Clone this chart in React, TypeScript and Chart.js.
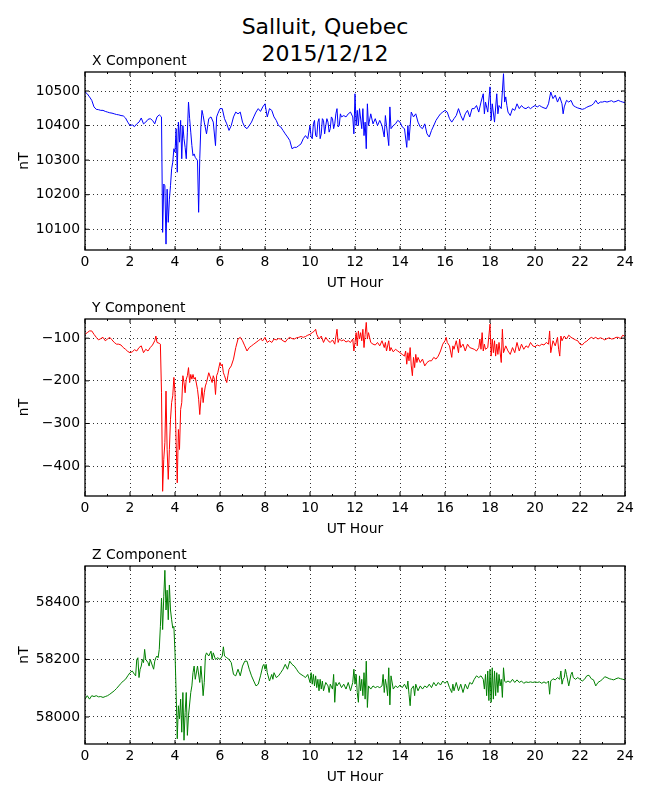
import { useEffect, useRef } from 'react';
import { Chart, registerables } from 'chart.js';

Chart.register(...registerables);

const FONT_FAMILY = 'DejaVu Sans';

// hours of the day (UT) and the nT readings
const hourTicks = [0, 2, 4, 6, 8, 10, 12, 14, 16, 18, 20, 22, 24];
const minorHourTicks = [1, 3, 5, 7, 9, 11, 13, 15, 17, 19, 21, 23];
const xTicks = [10100, 10200, 10300, 10400, 10500];
const yTicks = [-400, -300, -200, -100];
const zTicks = [58000, 58200, 58400];

const xComponent: [number, number][] = [
  [0, 10497], [0.1, 10492], [0.2, 10483], [0.3, 10473], [0.4, 10454], [0.5, 10447], [0.6, 10446], [0.7, 10444], [0.8, 10444], [0.9, 10441],
  [1, 10439], [1.1, 10437], [1.2, 10436], [1.3, 10434], [1.4, 10432], [1.5, 10431], [1.6, 10429], [1.7, 10428], [1.8, 10422], [1.9, 10410],
  [2, 10400], [2.1, 10402], [2.2, 10397], [2.3, 10405], [2.4, 10410], [2.5, 10422], [2.6, 10405], [2.7, 10410], [2.8, 10418], [2.9, 10420],
  [3, 10415], [3.1, 10405], [3.2, 10425], [3.3, 10431], [3.4, 10425], [3.45, 10091], [3.5, 10231], [3.55, 10226], [3.6, 10057], [3.65, 10216],
  [3.7, 10120], [3.75, 10187], [3.8, 10226], [3.85, 10275], [3.9, 10294], [3.95, 10333],
  [4, 10323], [4.05, 10391], [4.1, 10265], [4.15, 10410], [4.2, 10352], [4.25, 10415], [4.3, 10304], [4.35, 10400], [4.4, 10362], [4.45, 10337],
  [4.5, 10304], [4.55, 10381], [4.6, 10468], [4.65, 10420], [4.7, 10381], [4.75, 10342], [4.8, 10313], [4.85, 10318], [4.9, 10308],
  [5, 10299], [5.05, 10149], [5.1, 10304], [5.15, 10400], [5.2, 10444], [5.25, 10429], [5.3, 10410], [5.4, 10376], [5.5, 10420], [5.6, 10425],
  [5.7, 10410], [5.8, 10342], [5.85, 10425], [5.9, 10434],
  [6, 10449], [6.1, 10449], [6.2, 10420], [6.3, 10405], [6.4, 10386], [6.5, 10400], [6.6, 10425], [6.7, 10439], [6.8, 10434], [6.9, 10439],
  [7, 10410], [7.1, 10396], [7.2, 10391], [7.3, 10400], [7.4, 10410], [7.5, 10425], [7.6, 10439], [7.7, 10449], [7.8, 10441], [7.9, 10454],
  [8, 10463], [8.1, 10425], [8.2, 10449], [8.3, 10444], [8.4, 10425], [8.5, 10415], [8.6, 10400], [8.7, 10396], [8.8, 10386], [8.9, 10376],
  [9, 10367], [9.1, 10357], [9.2, 10333], [9.3, 10337], [9.4, 10337], [9.5, 10342], [9.6, 10347], [9.7, 10362], [9.8, 10371], [9.9, 10362],
  [10, 10400], [10.05, 10367], [10.1, 10362], [10.15, 10405], [10.2, 10415], [10.25, 10371], [10.3, 10367], [10.35, 10410], [10.4, 10420],
  [10.45, 10362], [10.5, 10376], [10.55, 10420], [10.6, 10415], [10.65, 10376], [10.7, 10400], [10.75, 10420], [10.8, 10410], [10.85, 10381],
  [10.9, 10391], [10.95, 10425],
  [11, 10420], [11.05, 10391], [11.1, 10405], [11.15, 10434], [11.2, 10449], [11.25, 10396], [11.3, 10400], [11.35, 10434], [11.4, 10425],
  [11.5, 10429], [11.6, 10425], [11.7, 10434], [11.8, 10439], [11.9, 10425], [11.95, 10376],
  [12, 10492], [12.05, 10400], [12.1, 10444], [12.15, 10400], [12.2, 10449], [12.3, 10391], [12.35, 10449], [12.4, 10371], [12.45, 10410],
  [12.5, 10333], [12.55, 10463], [12.6, 10400], [12.7, 10434], [12.8, 10405], [12.9, 10420],
  [13, 10400], [13.1, 10415], [13.2, 10400], [13.3, 10367], [13.35, 10429], [13.4, 10400], [13.5, 10342], [13.55, 10454], [13.6, 10391],
  [13.7, 10400], [13.8, 10405], [13.9, 10415],
  [14, 10410], [14.1, 10396], [14.2, 10391], [14.3, 10337], [14.35, 10400], [14.4, 10357], [14.5, 10439], [14.6, 10425], [14.7, 10434],
  [14.8, 10410], [14.9, 10396],
  [15, 10391], [15.1, 10405], [15.2, 10376], [15.3, 10367], [15.4, 10386], [15.5, 10400], [15.6, 10415], [15.7, 10425], [15.8, 10434], [15.9, 10439],
  [16, 10444], [16.1, 10439], [16.2, 10420], [16.3, 10410], [16.4, 10420], [16.5, 10429], [16.6, 10449], [16.7, 10429], [16.8, 10415], [16.9, 10434],
  [17, 10444], [17.1, 10425], [17.2, 10449], [17.3, 10449], [17.4, 10458], [17.5, 10439], [17.6, 10468], [17.7, 10492], [17.75, 10434],
  [17.8, 10468], [17.9, 10439],
  [18, 10512], [18.05, 10415], [18.1, 10463], [18.2, 10410], [18.3, 10492], [18.35, 10434], [18.4, 10458], [18.5, 10449], [18.6, 10550],
  [18.65, 10468], [18.7, 10483], [18.75, 10458], [18.8, 10439], [18.9, 10429],
  [19, 10449], [19.1, 10444], [19.2, 10463], [19.3, 10449], [19.4, 10458], [19.5, 10451], [19.6, 10449], [19.7, 10454], [19.8, 10449], [19.9, 10454],
  [20, 10458], [20.1, 10454], [20.2, 10458], [20.3, 10454], [20.4, 10451], [20.5, 10449], [20.6, 10463], [20.7, 10497], [20.8, 10478], [20.9, 10488],
  [21, 10468], [21.1, 10483], [21.2, 10463], [21.25, 10434], [21.3, 10454], [21.4, 10473], [21.5, 10468], [21.6, 10473], [21.7, 10458],
  [21.8, 10454], [21.9, 10451],
  [22, 10449], [22.1, 10447], [22.2, 10449], [22.3, 10453], [22.4, 10456], [22.5, 10458], [22.6, 10463], [22.7, 10473], [22.8, 10463], [22.9, 10468],
  [23, 10468], [23.1, 10470], [23.2, 10468], [23.3, 10470], [23.4, 10472], [23.5, 10468], [23.6, 10470], [23.7, 10473], [23.8, 10470], [23.9, 10468],
  [24, 10466],
];

const yComponent: [number, number][] = [
  [0, -91], [0.1, -87], [0.2, -83], [0.3, -83], [0.4, -91], [0.5, -98], [0.6, -104], [0.7, -101], [0.8, -98], [0.9, -106],
  [1, -102], [1.1, -98], [1.2, -104], [1.3, -110], [1.4, -114], [1.5, -114], [1.6, -116], [1.7, -122], [1.8, -126], [1.9, -131],
  [2, -134], [2.1, -132], [2.2, -127], [2.3, -130], [2.4, -122], [2.5, -118], [2.6, -134], [2.7, -126], [2.8, -130], [2.9, -122],
  [3, -116], [3.1, -106], [3.15, -95], [3.2, -110], [3.3, -112], [3.35, -114], [3.4, -228], [3.45, -459], [3.5, -384], [3.55, -345],
  [3.6, -224], [3.65, -361], [3.7, -431], [3.75, -361], [3.8, -290], [3.85, -251], [3.9, -235], [3.95, -192],
  [4, -228], [4.05, -345], [4.1, -439], [4.15, -314], [4.2, -361], [4.25, -267], [4.3, -251], [4.35, -188], [4.4, -204], [4.45, -228],
  [4.5, -196], [4.55, -188], [4.6, -169], [4.65, -204], [4.7, -185], [4.75, -196], [4.8, -185], [4.85, -196], [4.9, -192],
  [5, -220], [5.05, -243], [5.1, -279], [5.15, -243], [5.2, -216], [5.25, -251], [5.3, -228], [5.35, -212], [5.4, -204], [5.5, -181],
  [5.6, -196], [5.65, -204], [5.7, -188], [5.75, -196], [5.8, -232], [5.85, -188], [5.9, -181],
  [6, -157], [6.05, -165], [6.1, -161], [6.15, -181], [6.2, -188], [6.3, -204], [6.35, -188], [6.4, -173], [6.5, -165], [6.6, -149],
  [6.7, -122], [6.8, -102], [6.9, -98],
  [7, -106], [7.1, -118], [7.2, -130], [7.3, -122], [7.4, -118], [7.5, -114], [7.6, -110], [7.7, -106], [7.8, -102], [7.9, -106],
  [8, -98], [8.1, -110], [8.2, -106], [8.3, -110], [8.4, -102], [8.5, -104], [8.6, -101], [8.7, -102], [8.8, -106], [8.9, -109],
  [9, -102], [9.1, -98], [9.2, -101], [9.3, -102], [9.4, -99], [9.5, -98], [9.6, -96], [9.7, -98], [9.8, -96], [9.9, -93],
  [10, -91], [10.1, -87], [10.2, -83], [10.25, -79], [10.3, -91], [10.4, -102], [10.5, -95], [10.6, -110], [10.7, -98], [10.8, -106], [10.9, -110],
  [11, -104], [11.1, -114], [11.2, -79], [11.25, -110], [11.3, -102], [11.4, -106], [11.5, -104], [11.6, -109], [11.7, -106], [11.8, -110],
  [11.9, -102], [11.95, -130],
  [12, -110], [12.05, -87], [12.1, -118], [12.15, -83], [12.2, -102], [12.25, -87], [12.3, -106], [12.35, -79], [12.4, -122], [12.45, -91],
  [12.5, -63], [12.55, -102], [12.6, -87], [12.7, -110], [12.8, -114], [12.9, -116],
  [13, -110], [13.1, -118], [13.2, -106], [13.3, -122], [13.35, -110], [13.4, -130], [13.5, -106], [13.55, -130], [13.6, -122], [13.7, -132],
  [13.8, -126], [13.9, -130],
  [14, -134], [14.1, -138], [14.2, -142], [14.25, -130], [14.3, -161], [14.35, -134], [14.4, -153], [14.45, -122], [14.5, -165], [14.55, -188],
  [14.6, -145], [14.65, -169], [14.7, -138], [14.75, -157], [14.8, -145], [14.9, -157],
  [15, -149], [15.1, -165], [15.2, -157], [15.3, -153], [15.4, -153], [15.5, -145], [15.6, -149], [15.7, -142], [15.8, -130], [15.9, -114],
  [16, -106], [16.05, -98], [16.1, -110], [16.2, -118], [16.3, -145], [16.35, -118], [16.4, -126], [16.5, -106], [16.6, -134], [16.65, -102],
  [16.7, -122], [16.8, -114], [16.9, -130],
  [17, -114], [17.1, -122], [17.2, -124], [17.3, -126], [17.4, -130], [17.5, -122], [17.55, -102], [17.6, -126], [17.65, -87], [17.7, -130],
  [17.75, -114], [17.8, -126], [17.9, -122],
  [18, -67], [18.05, -142], [18.1, -102], [18.15, -134], [18.2, -106], [18.25, -142], [18.3, -114], [18.35, -138], [18.4, -110], [18.5, -157],
  [18.55, -79], [18.6, -134], [18.7, -118], [18.8, -130], [18.9, -138],
  [19, -122], [19.1, -134], [19.2, -110], [19.3, -130], [19.4, -114], [19.5, -126], [19.6, -118], [19.7, -122], [19.8, -110], [19.9, -118],
  [20, -120], [20.1, -116], [20.2, -118], [20.3, -114], [20.4, -116], [20.5, -110], [20.6, -114], [20.65, -83], [20.7, -134], [20.8, -106], [20.9, -118],
  [21, -98], [21.05, -126], [21.1, -142], [21.15, -95], [21.2, -106], [21.3, -95], [21.4, -102], [21.5, -93], [21.6, -98], [21.7, -101],
  [21.8, -104], [21.9, -106],
  [22, -114], [22.1, -116], [22.2, -110], [22.3, -107], [22.4, -102], [22.5, -98], [22.6, -101], [22.7, -98], [22.8, -102], [22.9, -99],
  [23, -101], [23.1, -104], [23.2, -101], [23.3, -99], [23.4, -102], [23.5, -101], [23.6, -98], [23.7, -98], [23.8, -101], [23.9, -93],
  [24, -96],
];

const zComponent: [number, number][] = [
  [0, 58062], [0.1, 58074], [0.2, 58062], [0.3, 58074], [0.4, 58071], [0.5, 58074], [0.6, 58070], [0.7, 58071], [0.8, 58068], [0.9, 58071],
  [1, 58074], [1.1, 58079], [1.2, 58085], [1.3, 58091], [1.4, 58099], [1.5, 58108], [1.6, 58117], [1.7, 58125], [1.8, 58131], [1.9, 58143],
  [2, 58154], [2.1, 58160], [2.2, 58148], [2.25, 58143], [2.3, 58200], [2.35, 58206], [2.4, 58137], [2.45, 58166], [2.5, 58177], [2.55, 58200],
  [2.6, 58189], [2.65, 58235], [2.7, 58200], [2.8, 58189], [2.85, 58177], [2.9, 58200],
  [3, 58177], [3.05, 58166], [3.1, 58194], [3.15, 58206], [3.2, 58212], [3.25, 58206], [3.3, 58235], [3.35, 58315], [3.4, 58413], [3.45, 58304],
  [3.5, 58418], [3.55, 58510], [3.6, 58372], [3.65, 58441], [3.7, 58338], [3.75, 58459], [3.8, 58372], [3.85, 58338], [3.9, 58309], [3.95, 58315],
  [4, 58223], [4.05, 58085], [4.1, 57924], [4.15, 58039], [4.2, 57993], [4.25, 58062], [4.3, 57947], [4.35, 58085], [4.4, 57919], [4.45, 58016],
  [4.5, 58085], [4.55, 57936], [4.6, 58005], [4.7, 58085], [4.75, 58108], [4.8, 58154], [4.85, 58177], [4.9, 58131],
  [5, 58177], [5.1, 58120], [5.15, 58177], [5.2, 58131], [5.25, 58074], [5.3, 58120], [5.35, 58212], [5.4, 58223], [5.5, 58212], [5.6, 58229],
  [5.65, 58200], [5.7, 58223], [5.8, 58200], [5.9, 58206],
  [6, 58200], [6.1, 58212], [6.15, 58244], [6.2, 58212], [6.3, 58206], [6.4, 58200], [6.5, 58189], [6.6, 58148], [6.7, 58143], [6.8, 58166], [6.9, 58143],
  [7, 58177], [7.1, 58194], [7.2, 58194], [7.3, 58166], [7.4, 58143], [7.5, 58125], [7.6, 58108], [7.7, 58114], [7.8, 58143], [7.9, 58177], [7.95, 58183],
  [8, 58166], [8.05, 58183], [8.1, 58154], [8.2, 58125], [8.3, 58148], [8.35, 58131], [8.4, 58154], [8.5, 58137], [8.6, 58143], [8.7, 58154],
  [8.8, 58166], [8.9, 58183],
  [9, 58166], [9.1, 58194], [9.2, 58183], [9.3, 58177], [9.4, 58166], [9.5, 58154], [9.6, 58148], [9.7, 58143], [9.8, 58137], [9.9, 58148],
  [10, 58120], [10.05, 58154], [10.1, 58114], [10.15, 58148], [10.2, 58108], [10.25, 58143], [10.3, 58102], [10.35, 58131], [10.4, 58091],
  [10.45, 58131], [10.5, 58097], [10.55, 58125], [10.6, 58091], [10.7, 58120], [10.8, 58108], [10.85, 58085], [10.9, 58114],
  [11, 58097], [11.05, 58148], [11.1, 58051], [11.15, 58120], [11.2, 58108], [11.3, 58120], [11.4, 58102], [11.5, 58114], [11.6, 58097],
  [11.7, 58120], [11.8, 58091], [11.9, 58120], [11.95, 58166],
  [12, 58114], [12.05, 58148], [12.1, 58085], [12.15, 58051], [12.2, 58143], [12.25, 58091], [12.3, 58131], [12.35, 58074], [12.4, 58154],
  [12.45, 58062], [12.5, 58194], [12.55, 58033], [12.6, 58108], [12.7, 58097], [12.8, 58108], [12.9, 58102],
  [13, 58106], [13.1, 58102], [13.2, 58108], [13.25, 58148], [13.3, 58085], [13.35, 58131], [13.4, 58108], [13.45, 58074], [13.5, 58171],
  [13.55, 58042], [13.6, 58143], [13.7, 58097], [13.8, 58108], [13.9, 58102],
  [14, 58111], [14.1, 58102], [14.2, 58114], [14.3, 58097], [14.35, 58125], [14.4, 58079], [14.45, 58039], [14.5, 58097], [14.6, 58108],
  [14.65, 58074], [14.7, 58114], [14.8, 58091], [14.9, 58108],
  [15, 58097], [15.1, 58108], [15.2, 58102], [15.3, 58114], [15.4, 58102], [15.5, 58120], [15.6, 58108], [15.7, 58120], [15.8, 58111], [15.9, 58125],
  [16, 58117], [16.1, 58125], [16.2, 58102], [16.3, 58085], [16.35, 58114], [16.4, 58091], [16.5, 58120], [16.6, 58091], [16.7, 58114],
  [16.8, 58085], [16.9, 58114],
  [17, 58097], [17.1, 58120], [17.2, 58114], [17.3, 58131], [17.4, 58143], [17.5, 58137], [17.6, 58143], [17.7, 58131], [17.75, 58097],
  [17.8, 58148], [17.85, 58074], [17.9, 58160], [17.95, 58057],
  [18, 58166], [18.05, 58051], [18.1, 58171], [18.15, 58062], [18.2, 58160], [18.25, 58074], [18.3, 58154], [18.35, 58085], [18.4, 58148],
  [18.45, 58108], [18.5, 58131], [18.55, 58068], [18.6, 58171], [18.65, 58125], [18.7, 58120], [18.8, 58125], [18.9, 58120],
  [19, 58131], [19.1, 58120], [19.2, 58129], [19.3, 58120], [19.4, 58125], [19.5, 58117], [19.6, 58122], [19.7, 58120], [19.8, 58122], [19.9, 58120],
  [20, 58122], [20.1, 58120], [20.2, 58122], [20.3, 58117], [20.4, 58122], [20.5, 58117], [20.6, 58125], [20.65, 58079], [20.7, 58125],
  [20.8, 58133], [20.9, 58129],
  [21, 58137], [21.1, 58131], [21.15, 58160], [21.2, 58114], [21.25, 58131], [21.3, 58137], [21.35, 58166], [21.4, 58148], [21.5, 58108],
  [21.6, 58148], [21.65, 58156], [21.7, 58137], [21.8, 58131], [21.9, 58137],
  [22, 58131], [22.1, 58125], [22.2, 58131], [22.3, 58143], [22.4, 58145], [22.5, 58133], [22.6, 58129], [22.7, 58108], [22.75, 58114],
  [22.8, 58120], [22.9, 58125],
  [23, 58131], [23.1, 58140], [23.2, 58137], [23.3, 58133], [23.4, 58131], [23.5, 58129], [23.6, 58133], [23.7, 58136], [23.8, 58133], [23.9, 58131],
  [24, 58129],
];

const PAD_TOP = 30;
const AXIS_HEIGHT = 52;
const AXIS_WIDTH = 85;
const PAD_RIGHT = 25;

// box round the plot with inward ticks, and the panel heading
const framePlugin = {
  id: 'frame',
  afterDraw(chart: any, _args: any, opts: any) {
    const { ctx, chartArea, scales } = chart;
    const { left, right, top, bottom } = chartArea;
    ctx.save();
    ctx.strokeStyle = '#000';
    ctx.lineWidth = 1;
    ctx.beginPath();
    hourTicks.forEach(h => {
      const px = scales.x.getPixelForValue(h);
      ctx.moveTo(px, bottom); ctx.lineTo(px, bottom - 4);
      ctx.moveTo(px, top); ctx.lineTo(px, top + 4);
    });
    minorHourTicks.forEach(h => {
      const px = scales.x.getPixelForValue(h);
      ctx.moveTo(px, bottom); ctx.lineTo(px, bottom - 2);
      ctx.moveTo(px, top); ctx.lineTo(px, top + 2);
    });
    scales.y.ticks.forEach((t: any) => {
      const py = scales.y.getPixelForValue(t.value);
      ctx.moveTo(left, py); ctx.lineTo(left + 4, py);
      ctx.moveTo(right, py); ctx.lineTo(right - 4, py);
    });
    ctx.stroke();
    ctx.lineWidth = 1.3;
    ctx.strokeRect(left, top, right - left, bottom - top);
    ctx.fillStyle = '#000';
    ctx.font = `13.9px "${FONT_FAMILY}"`;
    ctx.textAlign = 'left';
    ctx.textBaseline = 'alphabetic';
    ctx.fillText(opts.title, left + 7, top - 7);
    ctx.restore();
  },
};

interface PanelProps {
  title: string;
  points: [number, number][];
  color: string;
  min: number;
  max: number;
  ticks: number[];
  plotTop: number;
  plotBottom: number;
}

function Panel({ title, points, color, min, max, ticks, plotTop, plotBottom }: PanelProps) {
  const canvasRef = useRef<HTMLCanvasElement>(null);
  const height = PAD_TOP + (plotBottom - plotTop) + AXIS_HEIGHT;

  useEffect(() => {
    if (!canvasRef.current) return;
    const font = { family: FONT_FAMILY, size: 13.9 };
    const chart = new Chart(canvasRef.current, {
      type: 'line',
      data: {
        datasets: [
          {
            data: points.map(([h, v]) => ({ x: h, y: v })),
            borderColor: color,
            borderWidth: 1,
            pointRadius: 0,
            fill: false,
            tension: 0,
          },
        ],
      },
      options: {
        animation: false,
        responsive: false,
        events: [],
        layout: { padding: { top: PAD_TOP, right: PAD_RIGHT, left: 0, bottom: 0 } },
        plugins: {
          legend: { display: false },
          tooltip: { enabled: false },
          frame: { title },
        } as any,
        scales: {
          x: {
            type: 'linear',
            min: 0,
            max: 24,
            afterFit: (s: any) => { s.height = AXIS_HEIGHT; },
            afterBuildTicks: (s: any) => { s.ticks = hourTicks.map(v => ({ value: v })); },
            ticks: { color: '#000', font, padding: 4, maxRotation: 0, autoSkip: false, callback: (v: any) => String(v) },
            grid: { color: 'rgba(0,0,0,0.8)', lineWidth: 1, drawTicks: false },
            border: { display: false, dash: [1, 3] },
            title: { display: true, text: 'UT Hour', color: '#000', font, padding: { top: 0, bottom: 10 } },
          },
          y: {
            type: 'linear',
            min,
            max,
            afterFit: (s: any) => { s.width = AXIS_WIDTH; },
            afterBuildTicks: (s: any) => { s.ticks = ticks.map(v => ({ value: v })); },
            ticks: { color: '#000', font, padding: 5, autoSkip: false, callback: (v: any) => String(v).replace('-', '\u2212') },
            grid: { color: 'rgba(0,0,0,0.8)', lineWidth: 1, drawTicks: false },
            border: { display: false, dash: [1, 3] },
            title: { display: true, text: 'nT', color: '#000', font, padding: { top: 16, bottom: 0 } },
          },
        },
      },
      plugins: [framePlugin],
    });
    return () => chart.destroy();
  }, [title, points, color, min, max, ticks, plotTop, plotBottom]);

  return (
    <canvas
      ref={canvasRef}
      width={650}
      height={height}
      style={{ position: 'absolute', left: 0, top: plotTop - PAD_TOP, width: 650, height }}
    />
  );
}

export default function App() {
  return (
    <div style={{ position: 'absolute', left: 0, top: 0, width: 650, height: 800, background: '#fff', overflow: 'hidden' }}>
      <div
        style={{
          position: 'absolute', top: 13, left: 0, width: 650, textAlign: 'center',
          fontFamily: FONT_FAMILY, fontSize: 22, lineHeight: '27px', color: '#000',
        }}
      >
        <div>Salluit, Quebec</div>
        <div>2015/12/12</div>
      </div>
      <Panel title="X Component" points={xComponent} color="#0000ff" min={10040} max={10555} ticks={xTicks} plotTop={72} plotBottom={250} />
      <Panel title="Y Component" points={yComponent} color="#ff0000" min={-470} max={-55} ticks={yTicks} plotTop={319} plotBottom={496} />
      <Panel title="Z Component" points={zComponent} color="#008000" min={57906} max={58525} ticks={zTicks} plotTop={566} plotBottom={744} />
    </div>
  );
}
